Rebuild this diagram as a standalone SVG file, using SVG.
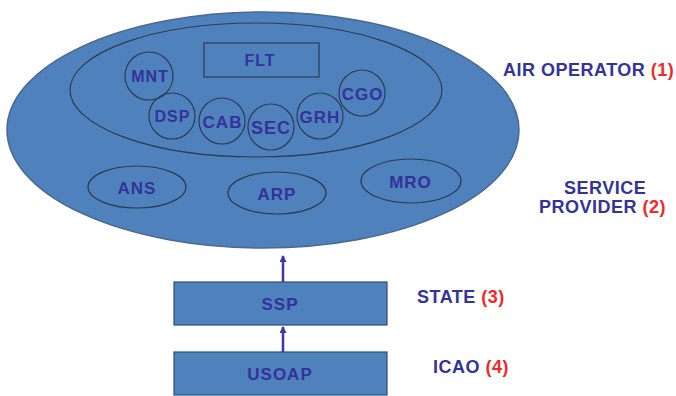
<svg xmlns="http://www.w3.org/2000/svg" width="676" height="396" viewBox="0 0 676 396">
<defs>
<style>
.lbl{font-family:"Liberation Sans",Arial,sans-serif;font-weight:bold;fill:#33339a;text-anchor:middle;letter-spacing:1px}
.side{font-family:"Liberation Sans",Arial,sans-serif;font-weight:bold;fill:#33339a;font-size:18px;letter-spacing:0.5px}
.red{fill:#f02828}
.thin{fill:none;stroke:#2b3c55;stroke-width:1.2}
.box{fill:#4f81bd;stroke:#2f4f78;stroke-width:1.2}
.conn{stroke:#3a3aa0;stroke-width:2.5;fill:none}
</style>
<marker id="ah" markerWidth="7" markerHeight="7" refX="6" refY="3.5" orient="auto" markerUnits="userSpaceOnUse">
<path d="M0,0 L7,3.5 L0,7 z" fill="#3a3aa0"/>
</marker>
</defs>
<rect width="676" height="396" fill="#ffffff"/>
<g id="service-provider">
<ellipse cx="263" cy="130" rx="256" ry="118" fill="#4f81bd" stroke="#4a6890" stroke-width="1.5"/>
</g>
<g id="air-operator">
<ellipse class="thin" cx="256" cy="90" rx="186" ry="67"/>
</g>
<g id="flt">
<rect class="thin" x="204" y="43" width="115" height="34"/>
<text class="lbl" x="260" y="66" font-size="16">FLT</text>
</g>
<g id="mnt">
<circle class="thin" cx="149" cy="76" r="24"/>
<text class="lbl" x="150" y="82" font-size="16">MNT</text>
</g>
<g id="dsp">
<circle class="thin" cx="172" cy="116" r="23"/>
<text class="lbl" x="172.5" y="122" font-size="16">DSP</text>
</g>
<g id="cab">
<circle class="thin" cx="222" cy="121" r="23"/>
<text class="lbl" x="222.5" y="128" font-size="17">CAB</text>
</g>
<g id="sec">
<circle class="thin" cx="271" cy="127" r="23"/>
<text class="lbl" x="271" y="134" font-size="18">SEC</text>
</g>
<g id="grh">
<circle class="thin" cx="320" cy="116" r="23"/>
<text class="lbl" x="320" y="123" font-size="17">GRH</text>
</g>
<g id="cgo">
<circle class="thin" cx="362" cy="93" r="23"/>
<text class="lbl" x="362.5" y="100" font-size="17">CGO</text>
</g>
<g id="ans">
<ellipse class="thin" cx="137" cy="187" rx="49" ry="21"/>
<text class="lbl" x="137" y="194" font-size="17">ANS</text>
</g>
<g id="arp">
<ellipse class="thin" cx="277" cy="193" rx="49" ry="21"/>
<text class="lbl" x="277" y="200" font-size="17">ARP</text>
</g>
<g id="mro">
<ellipse class="thin" cx="411" cy="181" rx="50" ry="22"/>
<text class="lbl" x="410.5" y="188" font-size="17">MRO</text>
</g>
<g id="ssp">
<rect class="box" x="174" y="282" width="213" height="43"/>
<text class="lbl" x="280" y="310" font-size="17">SSP</text>
</g>
<g id="usoap">
<rect class="box" x="174" y="352" width="213" height="43"/>
<text class="lbl" x="280" y="380" font-size="17" letter-spacing="1.5">USOAP</text>
</g>
<g id="connectors">
<line class="conn" x1="283" y1="282" x2="283" y2="256" marker-end="url(#ah)"/>
<line class="conn" x1="283" y1="352" x2="283" y2="327" marker-end="url(#ah)"/>
</g>
<g id="labels">
<text class="side" x="503" y="76">AIR OPERATOR <tspan class="red">(1)</tspan></text>
<text class="side" x="564" y="194">SERVICE</text>
<text class="side" x="539" y="213">PROVIDER <tspan class="red">(2)</tspan></text>
<text class="side" x="417" y="303">STATE <tspan class="red">(3)</tspan></text>
<text class="side" x="433" y="373">ICAO <tspan class="red">(4)</tspan></text>
</g>
</svg>
